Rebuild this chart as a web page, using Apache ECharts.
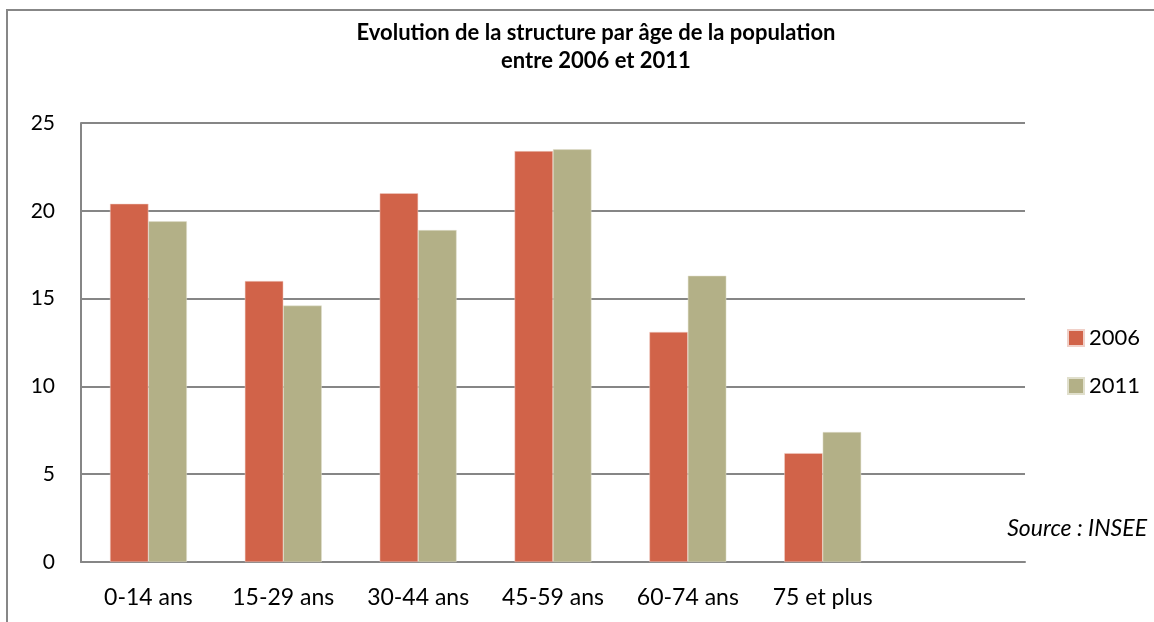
<!DOCTYPE html>
<html>
<head>
<meta charset="utf-8">
<script src="https://cdn.jsdelivr.net/npm/echarts@6/dist/echarts.min.js"></script>
<style>
  html, body { margin: 0; padding: 0; background: #fff; }
  #chart { width: 1154px; height: 622px; }
</style>
</head>
<body>
<div id="chart"></div>
<script>
  // données
  const categories = ['0-14 ans', '15-29 ans', '30-44 ans', '45-59 ans', '60-74 ans', '75 et plus', ''];
  const values2006 = [20.4, 16.0, 21.0, 23.4, 13.1, 6.2, null];
  const values2011 = [19.4, 14.6, 18.9, 23.5, 16.3, 7.4, null];
  const yTicks = [0, 5, 10, 15, 20, 25];

  const font = 'Lato, "Open Sans", sans-serif';

  const myChart = echarts.init(document.getElementById('chart'));
  myChart.setOption({
    animation: false,
    title: {
      text: 'Evolution de la structure par âge de la population\nentre 2006 et 2011',
      left: 591,
      top: 14,
      textAlign: 'center',
      textStyle: {
        fontFamily: font,
        fontWeight: 'bold',
        fontSize: 22,
        lineHeight: 28,
        color: '#000'
      }
    },
    legend: {
      orient: 'vertical',
      left: 1062,
      top: 322,
      itemWidth: 16,
      itemHeight: 16,
      itemGap: 26,
      icon: 'rect',
      textStyle: { fontFamily: font, fontSize: 22, lineHeight: 22, color: '#000' },
      data: ['2006', '2011']
    },
    grid: { left: 81, right: 129, top: 123, bottom: 60 },
    xAxis: {
      type: 'category',
      data: categories,
      axisLine: { lineStyle: { color: '#868686', width: 2 } },
      axisTick: { show: false },
      axisLabel: { fontFamily: font, fontSize: 23, color: '#000', margin: 24, interval: 0 }
    },
    yAxis: {
      type: 'value',
      min: yTicks[0],
      max: yTicks[yTicks.length - 1],
      interval: 5,
      axisLine: { show: true, lineStyle: { color: '#868686', width: 2 } },
      axisTick: { show: false },
      splitLine: { lineStyle: { color: '#868686', width: 2 } },
      axisLabel: { fontFamily: font, fontSize: 21, color: '#000', margin: 26 }
    },
    graphic: [
      {
        type: 'rect',
        shape: { x: 7, y: 10, width: 1200, height: 700 },
        style: { fill: 'none', stroke: '#878787', lineWidth: 2 },
        silent: true
      },
      {
        type: 'text',
        right: 7,
        top: 517,
        style: {
          text: 'Source : INSEE',
          font: 'italic 23px ' + font,
          fill: '#000'
        }
      }
    ],
    series: [
      {
        name: '2006',
        type: 'bar',
        data: values2006,
        barWidth: '28.5%',
        barGap: '0%',
        itemStyle: { color: '#D16349', borderColor: '#f0d0c8', borderWidth: 0.5 }
      },
      {
        name: '2011',
        type: 'bar',
        data: values2011,
        barWidth: '28.5%',
        barGap: '0%',
        itemStyle: { color: '#B3B087', borderColor: '#e0dfcc', borderWidth: 0.5 }
      }
    ]
  });
</script>
</body>
</html>
